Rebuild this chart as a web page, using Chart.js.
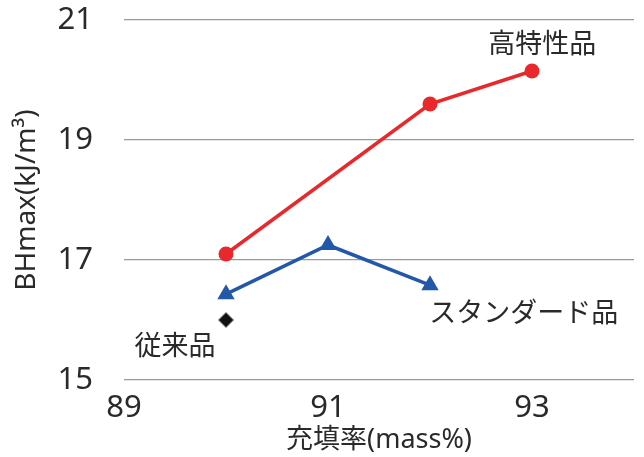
<!DOCTYPE html>
<html><head><meta charset="utf-8">
<script src="https://cdn.jsdelivr.net/npm/chart.js@4"></script>
<style>html,body{margin:0;padding:0;background:#fff}#w{width:644px;height:457px}</style>
</head><body><div id="w"><canvas id="c"></canvas></div>
<script>
const highX = [90, 92, 93];
const highY = [17.1, 19.6, 20.15];
const stdX = [90, 91, 92];
const stdY = [16.43, 17.25, 16.58];
const oldX = [90];
const oldY = [16.0];
const xTicks = [89, 91, 93];
const yTicks = [15, 17, 19, 21];
const labelHigh = '高特性品';
const labelStd = 'スタンダード品';
const labelOld = '従来品';

const FONT = "'Noto Sans', 'Noto Sans CJK JP', sans-serif";
const JFONT = "'Noto Sans CJK JP', sans-serif";
const pts = (xs, ys) => xs.map((x, i) => ({x, y: ys[i]}));

const notes = [
  {text: labelHigh, x: 93.1, y: 20.62},
  {text: labelStd, x: 92.92, y: 16.13},
  {text: labelOld, x: 89.5, y: 15.58}
];
const notePlugin = {
  id: 'notes',
  afterDatasetsDraw(chart) {
    const {ctx, scales: {x, y}} = chart;
    ctx.save();
    ctx.font = '27px ' + JFONT;
    ctx.fillStyle = '#2a2a2a';
    ctx.textAlign = 'center';
    ctx.textBaseline = 'middle';
    notes.forEach(n => ctx.fillText(n.text, x.getPixelForValue(n.x), y.getPixelForValue(n.y)));
    ctx.restore();
  }
};

new Chart(document.getElementById('c'), {
  type: 'line',
  data: {
    datasets: [
      {data: pts(highX, highY), borderColor: '#e8282b', backgroundColor: '#e8282b', borderWidth: 3.5,
       pointStyle: 'circle', pointRadius: 7.5, pointHoverRadius: 7.5, pointBorderWidth: 0},
      {data: pts(stdX, stdY), borderColor: '#2357a8', backgroundColor: '#2357a8', borderWidth: 3.5,
       pointStyle: 'triangle', pointRadius: 10, pointHoverRadius: 10, pointBorderWidth: 0},
      {data: pts(oldX, oldY), borderColor: '#777', backgroundColor: '#111', showLine: false,
       pointStyle: 'rectRot', pointRadius: 7.5, pointHoverRadius: 7.5, pointBorderWidth: 1}
    ]
  },
  options: {
    responsive: true, maintainAspectRatio: false, animation: false,
    layout: {padding: {top: 20, right: 9, left: 0, bottom: 0}},
    plugins: {legend: {display: false}, tooltip: {enabled: false}},
    scales: {
      x: {
        type: 'linear', min: 89, max: 94,
        afterBuildTicks: s => { s.ticks = xTicks.map(v => ({value: v})); },
        afterFit: s => { s.height = 77; },
        grid: {display: false, drawTicks: false},
        border: {display: false},
        ticks: {padding: 10, color: '#2a2a2a', font: {family: FONT, size: 31}},
        title: {display: true, text: '充填率(mass%)', color: '#2a2a2a', font: {family: FONT, size: 27}, padding: {top: 0, bottom: 0}}
      },
      y: {
        min: 15, max: 21,
        afterBuildTicks: s => { s.ticks = yTicks.map(v => ({value: v})); },
        afterFit: s => { s.width = 124; s.paddingTop = 0; s.paddingBottom = 0; },
        grid: {color: '#9a9a9a', lineWidth: 1.2, drawTicks: false},
        border: {display: false},
        ticks: {padding: 31, color: '#2a2a2a', font: {family: FONT, size: 31}},
        title: {display: true, text: 'BHmax(kJ/m³)', color: '#2a2a2a', font: {family: FONT, size: 28}, padding: {top: 10, bottom: 0}}
      }
    }
  },
  plugins: [notePlugin]
});
</script></body></html>
